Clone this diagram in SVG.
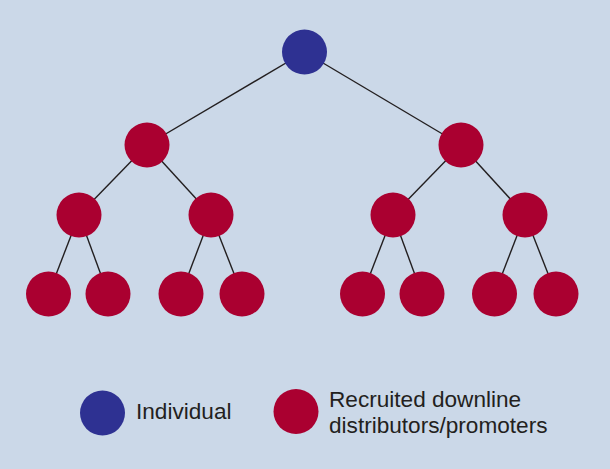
<svg xmlns="http://www.w3.org/2000/svg" width="610" height="469" viewBox="0 0 610 469">
<style>
.bg{fill:#cbd8e8}
.ind{fill:#2e3192}
.rec{fill:#aa0030}
.edge{stroke:#231f20;stroke-width:1.4;fill:none}
.lbl{font-family:"Liberation Sans",Arial,sans-serif;font-size:22.6px;fill:#231f20}
</style>
<rect class="bg" x="0" y="0" width="610" height="469"/>
<g id="connectors">
<line class="edge" x1="304.5" y1="52" x2="147" y2="145"/>
<line class="edge" x1="304.5" y1="52" x2="461" y2="145"/>
<line class="edge" x1="147" y1="145" x2="79" y2="215"/>
<line class="edge" x1="147" y1="145" x2="211" y2="215"/>
<line class="edge" x1="461" y1="145" x2="393" y2="215"/>
<line class="edge" x1="461" y1="145" x2="525" y2="215"/>
<line class="edge" x1="79" y1="215" x2="48.5" y2="294"/>
<line class="edge" x1="79" y1="215" x2="108" y2="294"/>
<line class="edge" x1="211" y1="215" x2="181" y2="294"/>
<line class="edge" x1="211" y1="215" x2="242" y2="294"/>
<line class="edge" x1="393" y1="215" x2="362.5" y2="294"/>
<line class="edge" x1="393" y1="215" x2="422" y2="294"/>
<line class="edge" x1="525" y1="215" x2="494.5" y2="294"/>
<line class="edge" x1="525" y1="215" x2="556" y2="294"/>
</g>
<g id="n0"><circle class="ind" cx="304.5" cy="52" r="22.5"/></g>
<g id="n1"><circle class="rec" cx="147" cy="145" r="22.5"/></g>
<g id="n2"><circle class="rec" cx="461" cy="145" r="22.5"/></g>
<g id="n3"><circle class="rec" cx="79" cy="215" r="22.5"/></g>
<g id="n4"><circle class="rec" cx="211" cy="215" r="22.5"/></g>
<g id="n5"><circle class="rec" cx="393" cy="215" r="22.5"/></g>
<g id="n6"><circle class="rec" cx="525" cy="215" r="22.5"/></g>
<g id="n7"><circle class="rec" cx="48.5" cy="294" r="22.5"/></g>
<g id="n8"><circle class="rec" cx="108" cy="294" r="22.5"/></g>
<g id="n9"><circle class="rec" cx="181" cy="294" r="22.5"/></g>
<g id="n10"><circle class="rec" cx="242" cy="294" r="22.5"/></g>
<g id="n11"><circle class="rec" cx="362.5" cy="294" r="22.5"/></g>
<g id="n12"><circle class="rec" cx="422" cy="294" r="22.5"/></g>
<g id="n13"><circle class="rec" cx="494.5" cy="294" r="22.5"/></g>
<g id="n14"><circle class="rec" cx="556" cy="294" r="22.5"/></g>
<g id="legend-individual">
<circle class="ind" cx="102.5" cy="413" r="22.5"/>
<text class="lbl" x="136" y="419">Individual</text>
</g>
<g id="legend-recruited">
<circle class="rec" cx="296" cy="411.5" r="22.5"/>
<text class="lbl" x="329" y="406.5">Recruited downline</text>
<text class="lbl" x="329" y="433">distributors/promoters</text>
</g>
</svg>
